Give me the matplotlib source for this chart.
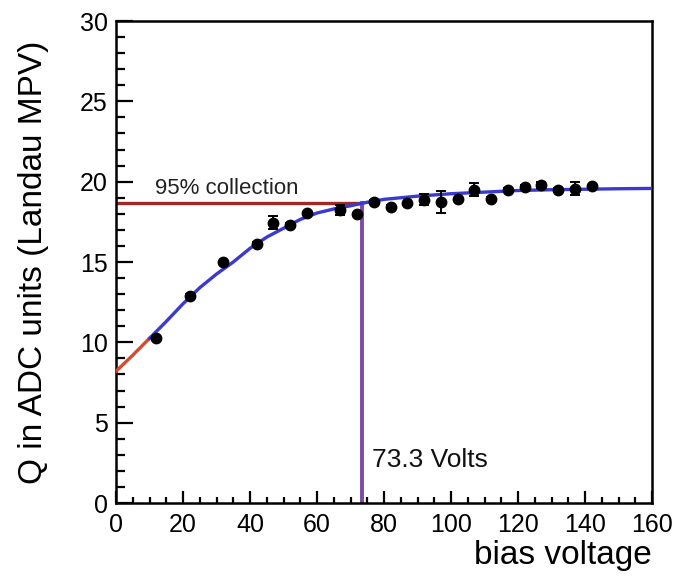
import numpy as np
import matplotlib
matplotlib.use("Agg")
import matplotlib.pyplot as plt
from matplotlib.ticker import MultipleLocator

# ==== 数据 ====
bias_v = [12, 22, 32, 42, 47, 52, 57, 67, 72, 77, 82, 87, 92, 97, 102,
          107, 112, 117, 122, 127, 132, 137, 142]
mpv = [10.25, 12.9, 14.98, 16.12, 17.44, 17.3, 18.03, 18.25, 17.97, 18.75,
       18.44, 18.65, 18.87, 18.75, 18.9, 19.5, 18.95, 19.48, 19.69, 19.79,
       19.48, 19.55, 19.72]
mpv_err = [0.1, 0.1, 0.1, 0.1, 0.4, 0.1, 0.1, 0.3, 0.1, 0.1, 0.1, 0.1, 0.35,
           0.7, 0.1, 0.4, 0.1, 0.1, 0.1, 0.2, 0.1, 0.4, 0.1]

# 拟合曲线 (读取的采样点)
fit_x = [0, 5, 10, 15, 20, 25, 30, 35, 40, 45, 50, 55, 60, 65, 70, 75, 80,
         90, 100, 110, 120, 130, 140, 150, 160]
fit_y = [8.2, 9.2, 10.25, 11.3, 12.4, 13.4, 14.25, 15.0, 15.85, 16.55, 17.1,
         17.65, 18.05, 18.3, 18.5, 18.72, 18.9, 19.1, 19.25, 19.35, 19.45,
         19.5, 19.53, 19.56, 19.58]
fit_split = 10  # 红色部分 0-10, 蓝色部分 10-160

v_full = 73.3
q_95 = 18.65

# ==== 作图 ====
plt.rcParams["font.family"] = ["Liberation Sans", "DejaVu Sans"]
fig = plt.figure(figsize=(6.76, 5.77), dpi=100)
ax = fig.add_axes([0.1716, 0.1282, 0.7929, 0.8354])

fx = np.array(fit_x)
fy = np.array(fit_y)
red = fx <= fit_split
blue = fx >= fit_split

ax.plot([0, v_full], [q_95, q_95], color="#a02828", lw=2.4, zorder=2)
ax.plot([v_full, v_full], [0, q_95], color="#7d4aa6", lw=2.8, zorder=2)
ax.plot(fx[red], fy[red], color="#d84a30", lw=2.4, zorder=3)
ax.plot(fx[blue], fy[blue], color="#3a3ad0", lw=2.4, zorder=3)

ax.errorbar(bias_v, mpv, yerr=mpv_err, fmt="o", color="black", ms=7.5,
            elinewidth=1.4, capsize=3.5, capthick=1.4, zorder=4)

ax.text(11.5, 18.95, "95% collection", fontsize=16, color="#222222",
        va="bottom", ha="left")
ax.text(76.3, 2.65, "73.3 Volts", fontsize=19, color="#111111",
        va="center", ha="left")

ax.set_xlim(0, 160)
ax.set_ylim(0, 30)
ax.xaxis.set_major_locator(MultipleLocator(20))
ax.xaxis.set_minor_locator(MultipleLocator(5))
ax.yaxis.set_major_locator(MultipleLocator(5))
ax.yaxis.set_minor_locator(MultipleLocator(1))
ax.tick_params(axis="both", which="both", direction="in", top=False,
               right=False, labelsize=18, width=1.6, colors="black")
ax.tick_params(axis="x", which="major", length=9, pad=7)
ax.tick_params(axis="x", which="minor", length=4.5)
ax.tick_params(axis="y", which="major", length=12, pad=6)
ax.tick_params(axis="y", which="minor", length=6.5)
for sp in ax.spines.values():
    sp.set_linewidth(1.8)

ax.set_xlabel("bias voltage", fontsize=24, loc="right", labelpad=2)
ax.set_ylabel("Q in ADC units (Landau MPV)", fontsize=24, labelpad=22)

fig.savefig("out.png", dpi=100)
